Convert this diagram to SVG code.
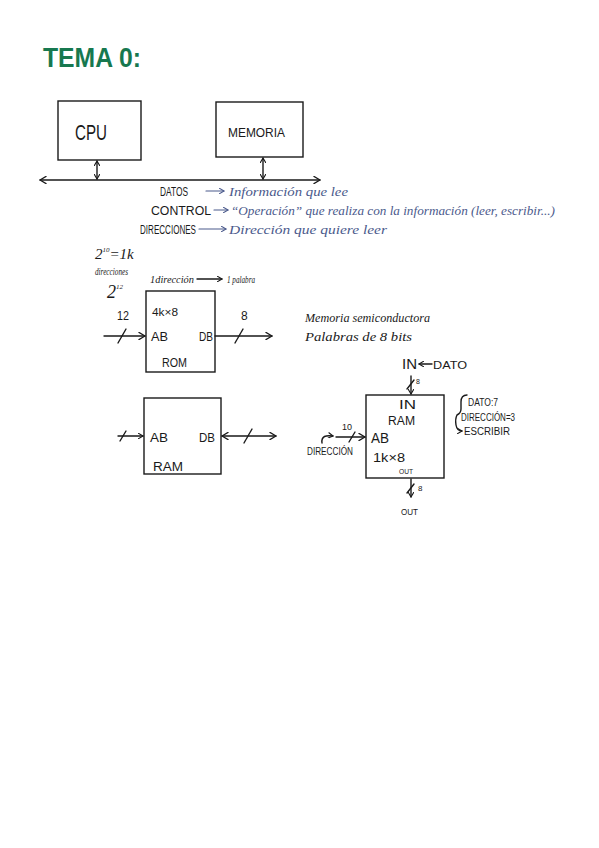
<svg xmlns="http://www.w3.org/2000/svg" width="599" height="848" viewBox="0 0 599 848">
<defs>
<marker id="ah" viewBox="0 0 8 8" refX="7" refY="4" markerWidth="8" markerHeight="8" markerUnits="userSpaceOnUse" orient="auto-start-reverse">
<path d="M1,0.5 L7,4 L1,7.5" fill="none" stroke="#1a1a1a" stroke-width="1.4" stroke-linecap="round" stroke-linejoin="round"/>
</marker>
<marker id="ahs" viewBox="0 0 8 8" refX="7" refY="4" markerWidth="6" markerHeight="6" markerUnits="userSpaceOnUse" orient="auto-start-reverse">
<path d="M1,0.5 L7,4 L1,7.5" fill="none" stroke="#1a1a1a" stroke-width="1.5" stroke-linecap="round" stroke-linejoin="round"/>
</marker>
<marker id="ahb" viewBox="0 0 8 8" refX="7" refY="4" markerWidth="6" markerHeight="6" markerUnits="userSpaceOnUse" orient="auto-start-reverse">
<path d="M1,0.5 L7,4 L1,7.5" fill="none" stroke="#4b5a8c" stroke-width="1.5" stroke-linecap="round" stroke-linejoin="round"/>
</marker>
</defs>
<style>
.box{fill:#fff;stroke:#1a1a1a;stroke-width:1.4}
.ln{fill:none;stroke:#1a1a1a;stroke-width:1.4;stroke-linecap:round}
.lb{fill:none;stroke:#4b5a8c;stroke-width:1.2;stroke-linecap:round}
.t{font-family:"Liberation Sans","DejaVu Sans",sans-serif;fill:#1a1a1a}
.h{font-family:"Liberation Serif","DejaVu Serif",serif;font-style:italic;fill:#1a1a1a}
.b{font-family:"Liberation Serif","DejaVu Serif",serif;font-style:italic;fill:#4b5a8c}
.ti{font-family:"Liberation Sans","DejaVu Sans",sans-serif;font-weight:bold;fill:#17784f}
</style>
<rect width="599" height="848" fill="#fff"/>

<g id="title">
<text class="ti" x="43" y="67" font-size="28" textLength="98" lengthAdjust="spacingAndGlyphs">TEMA 0:</text>
</g>

<g id="cpu">
<rect class="box" x="58" y="101" width="83" height="59"/>
<text class="t" x="75" y="140" font-size="22" textLength="32" lengthAdjust="spacingAndGlyphs">CPU</text>
</g>

<g id="memoria">
<rect class="box" x="216" y="102" width="87" height="55"/>
<text class="t" x="228" y="137" font-size="13" textLength="57" lengthAdjust="spacingAndGlyphs">MEMORIA</text>
</g>

<g id="bus-notes">
<text class="t" x="160" y="196" font-size="12" textLength="28" lengthAdjust="spacingAndGlyphs">DATOS</text>
<text class="b" x="229" y="196" font-size="13" textLength="119" lengthAdjust="spacingAndGlyphs">Información que lee</text>
<text class="t" x="151" y="215" font-size="12" textLength="60" lengthAdjust="spacingAndGlyphs">CONTROL</text>
<text class="b" x="231" y="215" font-size="13" textLength="324" lengthAdjust="spacingAndGlyphs">“Operación” que realiza con la información (leer, escribir...)</text>
<text class="t" x="140" y="234" font-size="12" textLength="56" lengthAdjust="spacingAndGlyphs">DIRECCIONES</text>
<text class="b" x="229" y="234" font-size="13" textLength="158" lengthAdjust="spacingAndGlyphs">Dirección que quiere leer</text>
</g>

<g id="notes">
<text class="h" x="95" y="259" font-size="15">2<tspan font-size="7" dy="-7">10</tspan><tspan dy="7">=1k</tspan></text>
<text class="h" x="95" y="275" font-size="11" textLength="33" lengthAdjust="spacingAndGlyphs">direcciones</text>
<text class="h" x="107" y="298" font-size="18">2<tspan font-size="7" dy="-9">12</tspan></text>
<text class="h" x="150" y="283" font-size="10" textLength="44" lengthAdjust="spacingAndGlyphs">1dirección</text>
<text class="h" x="227" y="283" font-size="11" textLength="28" lengthAdjust="spacingAndGlyphs">1 palabra</text>
<text class="h" x="305" y="322" font-size="13" textLength="125" lengthAdjust="spacingAndGlyphs">Memoria semiconductora</text>
<text class="h" x="305" y="341" font-size="13" textLength="107" lengthAdjust="spacingAndGlyphs">Palabras de 8 bits</text>
</g>

<g id="rom">
<rect class="box" x="146" y="291" width="69" height="81"/>
<text class="t" x="152" y="316" font-size="10" textLength="26" lengthAdjust="spacingAndGlyphs">4k×8</text>
<text class="t" x="151" y="341" font-size="13" textLength="17" lengthAdjust="spacingAndGlyphs">AB</text>
<text class="t" x="199" y="341" font-size="12" textLength="14" lengthAdjust="spacingAndGlyphs">DB</text>
<text class="t" x="162" y="367" font-size="13" textLength="25" lengthAdjust="spacingAndGlyphs">ROM</text>
<text class="t" x="117" y="320" font-size="12" textLength="12" lengthAdjust="spacingAndGlyphs">12</text>
<text class="t" x="241" y="320" font-size="12">8</text>
</g>

<g id="ram1">
<rect class="box" x="144" y="398" width="77" height="76"/>
<text class="t" x="150" y="442" font-size="13" textLength="18" lengthAdjust="spacingAndGlyphs">AB</text>
<text class="t" x="199" y="442" font-size="13" textLength="16" lengthAdjust="spacingAndGlyphs">DB</text>
<text class="t" x="153" y="471" font-size="12" textLength="30" lengthAdjust="spacingAndGlyphs">RAM</text>
</g>

<g id="ram2">
<rect class="box" x="366" y="395" width="78" height="83"/>
<text class="t" x="399" y="409" font-size="13" textLength="17" lengthAdjust="spacingAndGlyphs">IN</text>
<text class="t" x="388" y="425" font-size="12" textLength="27" lengthAdjust="spacingAndGlyphs">RAM</text>
<text class="t" x="371" y="443" font-size="14" textLength="18" lengthAdjust="spacingAndGlyphs">AB</text>
<text class="t" x="373" y="462" font-size="13" textLength="32" lengthAdjust="spacingAndGlyphs">1k×8</text>
<text class="t" x="399" y="474" font-size="8" textLength="14" lengthAdjust="spacingAndGlyphs">OUT</text>
<text class="t" x="402" y="369" font-size="15" textLength="15" lengthAdjust="spacingAndGlyphs">IN</text>
<text class="t" x="433" y="369" font-size="11" textLength="34" lengthAdjust="spacingAndGlyphs">DATO</text>
<text class="t" x="416" y="384" font-size="7">8</text>
<text class="t" x="342" y="430" font-size="9" textLength="10" lengthAdjust="spacingAndGlyphs">10</text>
<text class="t" x="307" y="455" font-size="10" textLength="46" lengthAdjust="spacingAndGlyphs">DIRECCIÓN</text>
<text class="t" x="418" y="491" font-size="8">8</text>
<text class="t" x="401" y="515" font-size="9" textLength="17" lengthAdjust="spacingAndGlyphs">OUT</text>
<text class="t" x="468" y="406" font-size="10" textLength="30" lengthAdjust="spacingAndGlyphs">DATO:7</text>
<text class="t" x="461" y="421" font-size="10" textLength="54" lengthAdjust="spacingAndGlyphs">DIRECCIÓN=3</text>
<text class="t" x="464" y="435" font-size="10" textLength="46" lengthAdjust="spacingAndGlyphs">ESCRIBIR</text>
</g>

<g id="connectors">
<line class="ln" x1="40" y1="180" x2="320" y2="180" marker-start="url(#ah)" marker-end="url(#ah)"/>
<line class="ln" x1="97" y1="161" x2="97" y2="179" marker-start="url(#ahs)" marker-end="url(#ahs)"/>
<line class="ln" x1="263" y1="158" x2="263" y2="179" marker-start="url(#ahs)" marker-end="url(#ahs)"/>
<line class="lb" x1="206" y1="191" x2="224" y2="191" marker-end="url(#ahb)"/>
<line class="lb" x1="214" y1="210" x2="228" y2="210" marker-end="url(#ahb)"/>
<line class="lb" x1="199" y1="229" x2="226" y2="229" marker-end="url(#ahb)"/>
<line class="ln" x1="197" y1="279" x2="222" y2="279" stroke-width="1.1" marker-end="url(#ahs)"/>
<line class="ln" x1="104" y1="336" x2="145" y2="336" marker-end="url(#ah)"/>
<line class="ln" x1="118" y1="343" x2="126" y2="329"/>
<line class="ln" x1="215" y1="336" x2="272" y2="336" marker-end="url(#ah)"/>
<line class="ln" x1="235" y1="343" x2="243" y2="329"/>
<line class="ln" x1="118" y1="436" x2="143" y2="436" marker-end="url(#ahs)"/>
<line class="ln" x1="120" y1="441" x2="126" y2="431"/>
<line class="ln" x1="222" y1="436" x2="276" y2="436" marker-start="url(#ah)" marker-end="url(#ah)"/>
<line class="ln" x1="244" y1="443" x2="252" y2="429"/>
<line class="ln" x1="432" y1="364" x2="419" y2="364" marker-end="url(#ahs)"/>
<line class="ln" x1="411" y1="376" x2="411" y2="394" marker-end="url(#ahs)"/>
<line class="ln" x1="407" y1="389" x2="414" y2="380"/>
<line class="ln" x1="336" y1="437" x2="365" y2="437" marker-end="url(#ah)"/>
<line class="ln" x1="349" y1="442" x2="355" y2="432"/>
<path class="ln" d="M322,443 C321,436 326,435 333,436" stroke-width="1.2" marker-end="url(#ahs)"/>
<line class="ln" x1="411" y1="479" x2="411" y2="497" marker-end="url(#ahs)"/>
<line class="ln" x1="407" y1="493" x2="414" y2="484"/>
<path class="ln" d="M467,395 Q461,395 461,402 L461,409 Q461,413 457,415 Q455,419 456,425 Q457,431 462,431" stroke-width="1.2" marker-end="url(#ahs)"/>
</g>
</svg>
